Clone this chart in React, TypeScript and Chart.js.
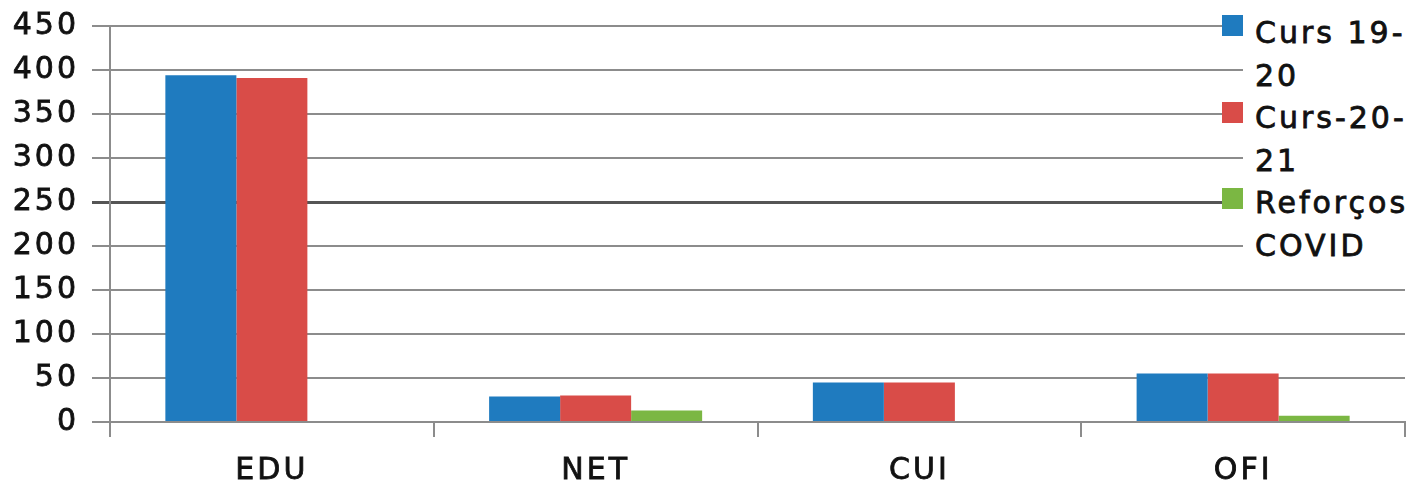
import React, { useEffect, useRef } from "react";
import { Chart, registerables } from "chart.js";

Chart.register(...registerables);

const categories = ["EDU", "NET", "CUI", "OFI"];
const curs1920 = [394, 29, 45, 55];
const curs2021 = [391, 30, 45, 55];
const reforcosCovid = [null, 13, null, 7];
const seriesLabels = ["Curs 19-20", "Curs-20-21", "Reforços COVID"];
const legendLines = [["Curs 19-", "20"], ["Curs-20-", "21"], ["Reforços", "COVID"]];
const seriesColors = ["#1f7bbf", "#d94c48", "#7bb743"];
const yTicks = [0, 50, 100, 150, 200, 250, 300, 350, 400, 450];

const FONT = "'DejaVu Sans', Verdana, sans-serif";
const GRID = "#8c8c8c";
const TEXT = "#111111";

export default function App() {
  const ref = useRef<HTMLCanvasElement | null>(null);

  useEffect(() => {
    document.body.style.margin = "0";
    const canvas = ref.current;
    if (!canvas) return;
    const spacing = {
      id: "letterSpacing",
      beforeDraw(chart: any) {
        chart.ctx.letterSpacing = "3px";
      },
    };
    const chart = new Chart(canvas, {
      type: "bar",
      data: {
        labels: categories,
        datasets: [
          { label: seriesLabels[0], data: curs1920, backgroundColor: seriesColors[0] },
          { label: seriesLabels[1], data: curs2021, backgroundColor: seriesColors[1] },
          { label: seriesLabels[2], data: reforcosCovid as any, backgroundColor: seriesColors[2] },
        ],
      },
      options: {
        responsive: false,
        animation: false,
        devicePixelRatio: 1,
        layout: { padding: { top: 26, right: 8, left: 0, bottom: 0 } },
        plugins: { legend: { display: false }, tooltip: { enabled: false } },
        datasets: { bar: { categoryPercentage: 0.658, barPercentage: 1 } },
        scales: {
          x: {
            offset: true,
            grid: {
              offset: true,
              drawOnChartArea: false,
              drawTicks: true,
              tickLength: 15,
              color: GRID,
              lineWidth: 2,
            },
            border: { display: true, color: GRID, width: 2 },
            ticks: {
              color: TEXT,
              font: { family: FONT, size: 30 },
              textStrokeColor: TEXT,
              textStrokeWidth: 0.8,
              padding: 16,
              maxRotation: 0,
            },
            afterFit(scale: any) {
              scale.height = 62;
              scale.paddingLeft = 0;
              scale.paddingRight = 0;
            },
          },
          y: {
            min: 0,
            max: 450,
            afterBuildTicks(scale: any) {
              scale.ticks = yTicks.map((v) => ({ value: v }));
            },
            grid: {
              drawTicks: true,
              tickLength: 18,
              color: (c: any) => (c.tick && c.tick.value === 250 ? "#555555" : GRID),
              lineWidth: (c: any) => (c.tick && c.tick.value === 250 ? 3 : 2),
            },
            border: { display: true, color: GRID, width: 2 },
            ticks: {
              color: TEXT,
              font: { family: FONT, size: 30 },
              textStrokeColor: TEXT,
              textStrokeWidth: 0.8,
              padding: 13,
            },
            afterFit(scale: any) {
              scale.width = 110;
              scale.paddingTop = 0;
              scale.paddingBottom = 0;
            },
          },
        },
      },
      plugins: [spacing],
    });
    return () => chart.destroy();
  }, []);

  const textStyle: any = {
    fontFamily: FONT,
    fontSize: 30,
    letterSpacing: "3px",
    lineHeight: "42.5px",
    color: TEXT,
    whiteSpace: "nowrap",
    WebkitTextStroke: "0.8px " + TEXT,
  };

  return (
    <div style={{ position: "fixed", left: 0, top: 0, width: 1413, height: 484, background: "#fff" }}>
      <canvas ref={ref} width={1413} height={484} style={{ display: "block" }} />
      <div
        style={{
          position: "absolute",
          left: 1243,
          top: 12,
          width: 170,
          paddingLeft: 12,
          boxSizing: "border-box",
          background: "#fff",
          ...textStyle,
        }}
      >
        {legendLines.map((lines, i) =>
          lines.map((ln, j) => <div key={i + "-" + j}>{ln}</div>)
        )}
      </div>
      {seriesColors.map((c, i) => (
        <div
          key={i}
          style={{
            position: "absolute",
            left: 1222,
            top: 15 + i * 86.5,
            width: 21,
            height: 21,
            background: c,
          }}
        />
      ))}
    </div>
  );
}
